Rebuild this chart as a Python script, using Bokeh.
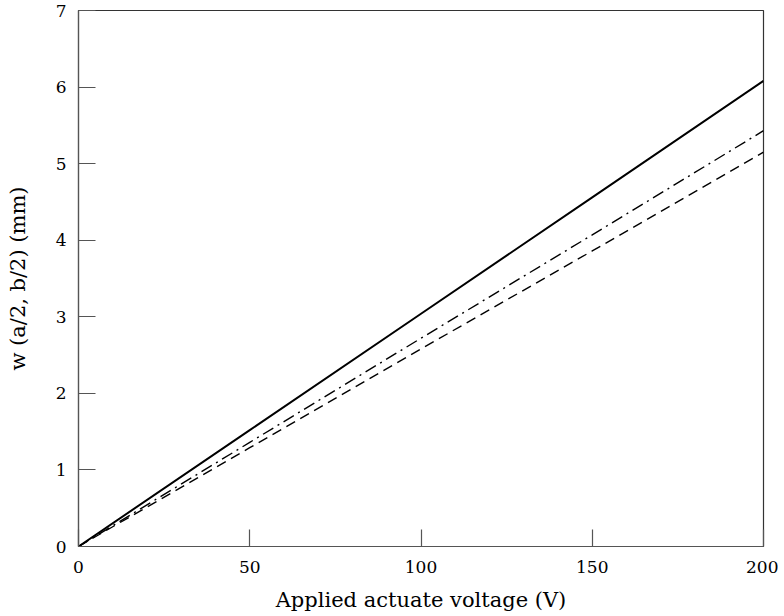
from bokeh.plotting import figure
from bokeh.embed import file_html
from bokeh.resources import INLINE
from bokeh.models import Range1d, FixedTicker

voltage = [0, 50, 100, 150, 200]
w_solid = [0, 1.52, 3.04, 4.56, 6.08]
w_dashdot = [0, 1.36, 2.72, 4.07, 5.43]
w_dashed = [0, 1.29, 2.58, 3.86, 5.15]
x_ticks = [0, 50, 100, 150, 200]
y_ticks = [0, 1, 2, 3, 4, 5, 6, 7]

FONT = "DejaVu Serif"

p = figure(frame_width=685, frame_height=536, output_backend="svg",
           toolbar_location=None, x_range=Range1d(0, 200), y_range=Range1d(0, 7),
           min_border_left=78, min_border_right=15, min_border_top=10, min_border_bottom=64)
p.grid.visible = False
p.outline_line_color = "#333333"
p.outline_line_width = 1.2

p.line(voltage, w_solid, line_color="black", line_width=2)
p.line(voltage, w_dashdot, line_color="black", line_width=1.4, line_dash="12 5 2 5")
p.line(voltage, w_dashed, line_color="black", line_width=1.4, line_dash="10 6")

for ax in (p.xaxis[0], p.yaxis[0]):
    ax.major_tick_in = 17
    ax.major_tick_out = 0
    ax.minor_tick_line_color = None
    ax.axis_line_color = "#555555"
    ax.major_tick_line_color = "#555555"
    ax.axis_line_width = 1.2
    ax.major_tick_line_width = 1.2
    ax.major_label_text_font = FONT
    ax.major_label_text_font_size = "17px"
    ax.major_label_text_color = "black"
    ax.axis_label_text_font = FONT
    ax.axis_label_text_font_size = "21px"
    ax.axis_label_text_font_style = "normal"
    ax.axis_label_text_color = "black"

p.xaxis.ticker = FixedTicker(ticks=x_ticks)
p.yaxis.ticker = FixedTicker(ticks=y_ticks)
p.xaxis.axis_label = "Applied actuate voltage (V)"
p.yaxis.axis_label = "w (a/2, b/2) (mm)"
p.xaxis.major_label_standoff = 14
p.yaxis.major_label_standoff = 12
p.xaxis.axis_label_standoff = 12
p.yaxis.axis_label_standoff = 23

open("out.html", "w").write(file_html(p, INLINE))
